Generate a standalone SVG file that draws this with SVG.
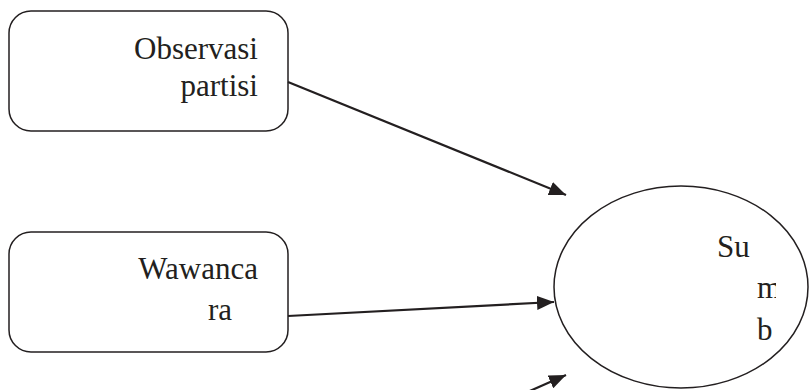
<svg xmlns="http://www.w3.org/2000/svg" width="810" height="390" viewBox="0 0 810 390">
<style>
.box{fill:#fff;stroke:#231f20;stroke-width:1.5}
.t{font-family:"Liberation Serif","Times New Roman",serif;font-size:31px;fill:#231f20}
.c{stroke:#231f20;stroke-width:2.2;fill:none}
</style>
<defs>
<marker id="a" viewBox="0 0 17 14" refX="17" refY="7" markerWidth="17" markerHeight="14" orient="auto" markerUnits="userSpaceOnUse">
<path d="M0,0 L17,7 L0,14 Z" fill="#231f20"/>
</marker>
<clipPath id="clipm"><rect x="700" y="260" width="76" height="50"/></clipPath>
</defs>
<rect width="810" height="390" fill="#fff"/>
<g id="observasi">
<rect class="box" x="9" y="11" width="279" height="120" rx="22"/>
<text class="t" x="258" y="59" text-anchor="end">Observasi</text>
<text class="t" x="258" y="96" text-anchor="end">partisi</text>
</g>
<g id="wawancara">
<rect class="box" x="9" y="232" width="279" height="120" rx="22"/>
<text class="t" x="258" y="279" text-anchor="end">Wawanca</text>
<text class="t" x="232" y="320" text-anchor="end">ra</text>
</g>
<g id="sumber">
<ellipse class="box" cx="681" cy="287" rx="127" ry="101"/>
<text class="t" x="717" y="257">Su</text>
<text class="t" x="757" y="298" clip-path="url(#clipm)">m</text>
<text class="t" x="757" y="340">b</text>
</g>
<g id="connectors">
<line class="c" x1="288" y1="82" x2="566" y2="195" marker-end="url(#a)"/>
<line class="c" x1="288" y1="316" x2="554" y2="302" marker-end="url(#a)"/>
<line class="c" x1="523" y1="394" x2="566" y2="375" marker-end="url(#a)"/>
</g>
</svg>
